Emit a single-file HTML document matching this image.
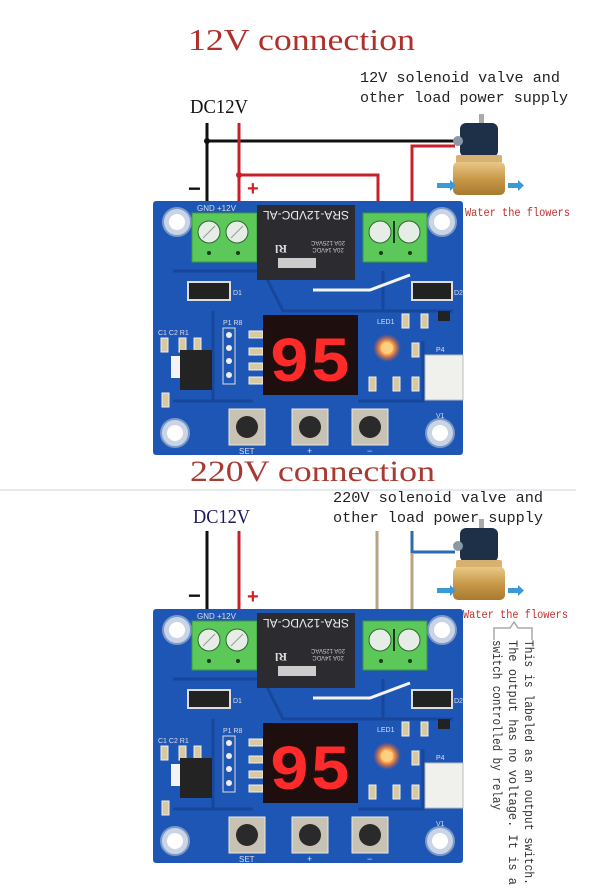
<!DOCTYPE html>
<html><head><meta charset="utf-8"><style>
html,body{margin:0;padding:0;background:#fff;}
svg{display:block;}
</style></head><body>
<svg width="616" height="894" viewBox="0 0 616 894" xmlns="http://www.w3.org/2000/svg">
<defs>
<radialGradient id="glow"><stop offset="0" stop-color="#fff6c0"/><stop offset="0.5" stop-color="#ff9a40"/><stop offset="1" stop-color="#ff5020" stop-opacity="0"/></radialGradient>
<linearGradient id="brass" x1="0" y1="0" x2="0" y2="1"><stop offset="0" stop-color="#e8c888"/><stop offset="0.5" stop-color="#c99a4a"/><stop offset="1" stop-color="#a87a30"/></linearGradient>
</defs>

<!-- ===== TOP SECTION ===== -->
<text x="188" y="50" font-family="Liberation Serif, serif" font-size="31" fill="#b0302c" textLength="227" lengthAdjust="spacingAndGlyphs">12V connection</text>
<text x="190" y="113" font-family="Liberation Serif, serif" font-size="20" fill="#111" textLength="58" lengthAdjust="spacingAndGlyphs">DC12V</text>
<text x="360" y="82" font-family="Liberation Mono, monospace" font-size="15" fill="#222" textLength="200" lengthAdjust="spacingAndGlyphs">12V solenoid valve and</text>
<text x="360" y="102" font-family="Liberation Mono, monospace" font-size="15" fill="#222" textLength="208" lengthAdjust="spacingAndGlyphs">other load power supply</text>

<!-- wires top -->
<line x1="207" y1="123" x2="207" y2="215" stroke="#111" stroke-width="3"/>
<line x1="207" y1="141" x2="455" y2="141" stroke="#111" stroke-width="3"/>
<line x1="239" y1="123" x2="239" y2="215" stroke="#c8202a" stroke-width="3"/>
<polyline points="239,175 378,175 378,216" fill="none" stroke="#c8202a" stroke-width="3"/>
<polyline points="412,216 412,146 455,146" fill="none" stroke="#c8202a" stroke-width="3"/>
<circle cx="207" cy="141" r="3" fill="#111"/><circle cx="239" cy="175" r="3" fill="#c8202a"/>
<text x="188" y="196" font-family="Liberation Sans, sans-serif" font-size="22" font-weight="bold" fill="#111">−</text>
<text x="247" y="195" font-family="Liberation Sans, sans-serif" font-size="20" font-weight="bold" fill="#d82020">+</text>

<!-- valve top -->
<g>
<rect x="479" y="114" width="5" height="10" fill="#aaa"/>
<rect x="460" y="123" width="38" height="34" rx="6" fill="#1e3048"/>
<circle cx="458" cy="141" r="5" fill="#8898a8"/>
<rect x="456" y="155" width="46" height="8" rx="2" fill="#d8b070"/>
<rect x="453" y="162" width="52" height="33" rx="5" fill="url(#brass)"/>
<rect x="437" y="183" width="13" height="5" fill="#3a9ad8"/><polygon points="450,180 456,185.5 450,191" fill="#3a9ad8"/>
<rect x="508" y="183" width="10" height="5" fill="#3a9ad8"/><polygon points="518,180 524,185.5 518,191" fill="#3a9ad8"/>
</g>
<text x="465" y="216" font-family="Liberation Mono, monospace" font-size="12" fill="#c03030" textLength="105" lengthAdjust="spacingAndGlyphs">Water the flowers</text>

<!-- BOARD 1 -->
<g transform="translate(153,201)">
<rect x="0" y="0" width="310" height="254" rx="3" fill="#1d56b4"/>
<g fill="none" stroke="#17479a" stroke-width="3">
<path d="M20 70 H110 L130 110 H300"/><path d="M60 110 V200 H100"/><path d="M205 200 H270 V140"/><path d="M20 200 H60"/><path d="M230 110 V70"/>
</g>
<!-- holes -->
<g fill="#c9d4e6" stroke="#7c98c8" stroke-width="2">
<circle cx="24" cy="21" r="14"/><circle cx="289" cy="21" r="14"/><circle cx="22" cy="232" r="14"/><circle cx="287" cy="232" r="14"/>
</g>
<g fill="#fff"><circle cx="24" cy="21" r="8"/><circle cx="289" cy="21" r="8"/><circle cx="22" cy="232" r="8"/><circle cx="287" cy="232" r="8"/></g>
<!-- left terminal -->
<rect x="39" y="12" width="65" height="49" fill="#5cc85a" stroke="#3a9a3a"/>
<circle cx="56" cy="31" r="11" fill="#e6ece6" stroke="#2a6a2a"/><circle cx="84" cy="31" r="11" fill="#e6ece6" stroke="#2a6a2a"/>
<line x1="50" y1="37" x2="62" y2="25" stroke="#999"/><line x1="78" y1="37" x2="90" y2="25" stroke="#999"/>
<circle cx="56" cy="52" r="2" fill="#1a3a1a"/><circle cx="85" cy="52" r="2" fill="#1a3a1a"/>
<text x="44" y="10" font-family="Liberation Sans, sans-serif" font-size="8" fill="#dde">GND   +12V</text>
<!-- relay -->
<rect x="104" y="4" width="98" height="75" fill="#2b2b30"/>
<text x="153" y="15" transform="rotate(180 153 15)" text-anchor="middle" dy="5" font-family="Liberation Sans, sans-serif" font-size="12" fill="#eee">SRA-12VDC-AL</text>
<text x="175" y="40" transform="rotate(180 175 40)" text-anchor="middle" font-family="Liberation Sans, sans-serif" font-size="6" fill="#ccc">20A 125VAC</text>
<text x="175" y="47" transform="rotate(180 175 47)" text-anchor="middle" font-family="Liberation Sans, sans-serif" font-size="6" fill="#ccc">20A 14VDC</text>
<text x="128" y="44" transform="rotate(180 128 44)" font-family="Liberation Serif, serif" font-size="12" font-weight="bold" fill="#ddd" text-anchor="middle">Rl</text>
<rect x="125" y="57" width="38" height="10" fill="#ccc"/>
<!-- right terminal -->
<rect x="210" y="12" width="64" height="49" fill="#5cc85a" stroke="#3a9a3a"/>
<circle cx="227" cy="31" r="11" fill="#e6ece6" stroke="#2a6a2a"/><circle cx="256" cy="31" r="11" fill="#e6ece6" stroke="#2a6a2a"/>
<line x1="241" y1="20" x2="241" y2="42" stroke="#1a3a1a" stroke-width="2"/>
<circle cx="228" cy="52" r="2" fill="#1a3a1a"/><circle cx="257" cy="52" r="2" fill="#1a3a1a"/>
<!-- diodes -->
<rect x="35" y="81" width="42" height="18" fill="#222" stroke="#ddd" stroke-width="2"/><text x="80" y="94" font-family="Liberation Sans" font-size="7" fill="#dde">D1</text>
<rect x="259" y="81" width="40" height="18" fill="#222" stroke="#ddd" stroke-width="2"/><text x="301" y="94" font-family="Liberation Sans" font-size="7" fill="#dde">D2</text>
<polyline points="160,89 217,89 257,74" fill="none" stroke="#f4f4f4" stroke-width="3"/>
<!-- smd -->
<g fill="#d9c9a0" stroke="#eee">
<rect x="8" y="137" width="7" height="14"/><rect x="26" y="137" width="7" height="14"/><rect x="41" y="137" width="7" height="14"/>
<rect x="9" y="192" width="7" height="14"/>
<rect x="96" y="130" width="14" height="7"/><rect x="96" y="147" width="14" height="7"/><rect x="96" y="162" width="14" height="7"/><rect x="96" y="176" width="14" height="7"/>
<rect x="249" y="113" width="7" height="14"/><rect x="268" y="113" width="7" height="14"/>
<rect x="259" y="142" width="7" height="14"/><rect x="259" y="176" width="7" height="14"/><rect x="240" y="176" width="7" height="14"/><rect x="216" y="176" width="7" height="14"/>
</g>
<rect x="285" y="110" width="12" height="10" fill="#222"/>
<!-- header P1 -->
<rect x="70" y="127" width="12" height="56" fill="none" stroke="#ddd"/>
<g fill="#eee"><circle cx="76" cy="134" r="3"/><circle cx="76" cy="147" r="3"/><circle cx="76" cy="160" r="3"/><circle cx="76" cy="174" r="3"/></g>
<text x="70" y="124" font-family="Liberation Sans" font-size="7" fill="#dde">P1 R8</text>
<text x="5" y="134" font-family="Liberation Sans" font-size="7" fill="#dde">C1  C2  R1</text>
<!-- regulator -->
<rect x="18" y="155" width="10" height="22" fill="#f4f4f4"/>
<rect x="27" y="149" width="32" height="40" fill="#232323"/>
<!-- display -->
<rect x="110" y="114" width="95" height="80" fill="#1e0e0e"/>
<text x="157" y="180" text-anchor="middle" font-family="Liberation Mono, monospace" font-size="64" font-weight="bold" fill="#ff2a2a" textLength="82" lengthAdjust="spacingAndGlyphs">95</text>
<!-- LED -->
<circle cx="234" cy="147" r="14" fill="url(#glow)"/><circle cx="234" cy="147" r="6" fill="#ffd080"/>
<text x="224" y="123" font-family="Liberation Sans" font-size="7" fill="#dde">LED1</text>
<!-- P4 -->
<rect x="272" y="154" width="38" height="45" fill="#f0f0ec" stroke="#bbb"/>
<text x="283" y="151" font-family="Liberation Sans" font-size="7" fill="#dde">P4</text>
<text x="283" y="217" font-family="Liberation Sans" font-size="7" fill="#dde">V1</text>
<!-- buttons -->
<g fill="#c8c2b4" stroke="#ede8de"><rect x="76" y="208" width="36" height="36"/><rect x="139" y="208" width="36" height="36"/><rect x="199" y="208" width="36" height="36"/></g>
<g fill="#2a2a2a"><circle cx="94" cy="226" r="11"/><circle cx="157" cy="226" r="11"/><circle cx="217" cy="226" r="11"/></g>
<text x="86" y="253" font-family="Liberation Sans" font-size="8" fill="#dde">SET</text>
<text x="154" y="253" font-family="Liberation Sans" font-size="9" fill="#dde">+</text>
<text x="214" y="253" font-family="Liberation Sans" font-size="9" fill="#dde">−</text>
</g>

<!-- ===== BOTTOM SECTION ===== -->
<line x1="0" y1="490" x2="576" y2="490" stroke="#c8d4e0" stroke-width="1"/>
<text x="190" y="481" font-family="Liberation Serif, serif" font-size="30" fill="#a83a33" textLength="245" lengthAdjust="spacingAndGlyphs">220V connection</text>
<text x="193" y="523" font-family="Liberation Serif, serif" font-size="20" fill="#1a1a5a" textLength="57" lengthAdjust="spacingAndGlyphs">DC12V</text>
<text x="333" y="502" font-family="Liberation Mono, monospace" font-size="15" fill="#222" textLength="210" lengthAdjust="spacingAndGlyphs">220V solenoid valve and</text>
<text x="333" y="522" font-family="Liberation Mono, monospace" font-size="15" fill="#222" textLength="210" lengthAdjust="spacingAndGlyphs">other load power supply</text>

<line x1="207" y1="531" x2="207" y2="622" stroke="#111" stroke-width="3"/>
<line x1="239" y1="531" x2="239" y2="622" stroke="#c8202a" stroke-width="3"/>
<line x1="377" y1="531" x2="377" y2="624" stroke="#b8a480" stroke-width="3"/>
<polyline points="412,531 412,552 455,552" fill="none" stroke="#2a6ab0" stroke-width="3"/>
<line x1="412" y1="553" x2="412" y2="624" stroke="#b8a480" stroke-width="3"/>
<text x="188" y="603" font-family="Liberation Sans, sans-serif" font-size="22" font-weight="bold" fill="#111">−</text>
<text x="247" y="603" font-family="Liberation Sans, sans-serif" font-size="20" font-weight="bold" fill="#d82020">+</text>

<g transform="translate(0,405)">
<rect x="479" y="114" width="5" height="10" fill="#aaa"/>
<rect x="460" y="123" width="38" height="34" rx="6" fill="#1e3048"/>
<circle cx="458" cy="141" r="5" fill="#8898a8"/>
<rect x="456" y="155" width="46" height="8" rx="2" fill="#d8b070"/>
<rect x="453" y="162" width="52" height="33" rx="5" fill="url(#brass)"/>
<rect x="437" y="183" width="13" height="5" fill="#3a9ad8"/><polygon points="450,180 456,185.5 450,191" fill="#3a9ad8"/>
<rect x="508" y="183" width="10" height="5" fill="#3a9ad8"/><polygon points="518,180 524,185.5 518,191" fill="#3a9ad8"/>
</g>
<text x="463" y="618" font-family="Liberation Mono, monospace" font-size="12" fill="#c03030" textLength="105" lengthAdjust="spacingAndGlyphs">Water the flowers</text>
<path d="M494 640 V628 H510 L514 622 L518 628 H532 V640" fill="none" stroke="#aaa" stroke-width="1.5"/>
<g font-family="Liberation Mono, monospace" font-size="13" fill="#333">
<text x="0" y="0" transform="translate(525,640) rotate(90)" textLength="245" lengthAdjust="spacingAndGlyphs">This is labeled as an output switch.</text>
<text x="0" y="0" transform="translate(509,640) rotate(90)" textLength="245" lengthAdjust="spacingAndGlyphs">The output has no voltage. It is a</text>
<text x="0" y="0" transform="translate(493,640) rotate(90)" textLength="170" lengthAdjust="spacingAndGlyphs">switch controlled by relay</text>
</g>

<!-- BOARD 2 -->
<g transform="translate(153,609)">
<rect x="0" y="0" width="310" height="254" rx="3" fill="#1d56b4"/>
<g fill="none" stroke="#17479a" stroke-width="3">
<path d="M20 70 H110 L130 110 H300"/><path d="M60 110 V200 H100"/><path d="M205 200 H270 V140"/><path d="M20 200 H60"/><path d="M230 110 V70"/>
</g>
<g fill="#c9d4e6" stroke="#7c98c8" stroke-width="2">
<circle cx="24" cy="21" r="14"/><circle cx="289" cy="21" r="14"/><circle cx="22" cy="232" r="14"/><circle cx="287" cy="232" r="14"/>
</g>
<g fill="#fff"><circle cx="24" cy="21" r="8"/><circle cx="289" cy="21" r="8"/><circle cx="22" cy="232" r="8"/><circle cx="287" cy="232" r="8"/></g>
<rect x="39" y="12" width="65" height="49" fill="#5cc85a" stroke="#3a9a3a"/>
<circle cx="56" cy="31" r="11" fill="#e6ece6" stroke="#2a6a2a"/><circle cx="84" cy="31" r="11" fill="#e6ece6" stroke="#2a6a2a"/>
<line x1="50" y1="37" x2="62" y2="25" stroke="#999"/><line x1="78" y1="37" x2="90" y2="25" stroke="#999"/>
<circle cx="56" cy="52" r="2" fill="#1a3a1a"/><circle cx="85" cy="52" r="2" fill="#1a3a1a"/>
<text x="44" y="10" font-family="Liberation Sans, sans-serif" font-size="8" fill="#dde">GND   +12V</text>
<rect x="104" y="4" width="98" height="75" fill="#2b2b30"/>
<text x="153" y="15" transform="rotate(180 153 15)" text-anchor="middle" dy="5" font-family="Liberation Sans, sans-serif" font-size="12" fill="#eee">SRA-12VDC-AL</text>
<text x="175" y="40" transform="rotate(180 175 40)" text-anchor="middle" font-family="Liberation Sans, sans-serif" font-size="6" fill="#ccc">20A 125VAC</text>
<text x="175" y="47" transform="rotate(180 175 47)" text-anchor="middle" font-family="Liberation Sans, sans-serif" font-size="6" fill="#ccc">20A 14VDC</text>
<text x="128" y="44" transform="rotate(180 128 44)" font-family="Liberation Serif, serif" font-size="12" font-weight="bold" fill="#ddd" text-anchor="middle">Rl</text>
<rect x="125" y="57" width="38" height="10" fill="#ccc"/>
<rect x="210" y="12" width="64" height="49" fill="#5cc85a" stroke="#3a9a3a"/>
<circle cx="227" cy="31" r="11" fill="#e6ece6" stroke="#2a6a2a"/><circle cx="256" cy="31" r="11" fill="#e6ece6" stroke="#2a6a2a"/>
<line x1="241" y1="20" x2="241" y2="42" stroke="#1a3a1a" stroke-width="2"/>
<circle cx="228" cy="52" r="2" fill="#1a3a1a"/><circle cx="257" cy="52" r="2" fill="#1a3a1a"/>
<rect x="35" y="81" width="42" height="18" fill="#222" stroke="#ddd" stroke-width="2"/><text x="80" y="94" font-family="Liberation Sans" font-size="7" fill="#dde">D1</text>
<rect x="259" y="81" width="40" height="18" fill="#222" stroke="#ddd" stroke-width="2"/><text x="301" y="94" font-family="Liberation Sans" font-size="7" fill="#dde">D2</text>
<polyline points="160,89 217,89 257,74" fill="none" stroke="#f4f4f4" stroke-width="3"/>
<g fill="#d9c9a0" stroke="#eee">
<rect x="8" y="137" width="7" height="14"/><rect x="26" y="137" width="7" height="14"/><rect x="41" y="137" width="7" height="14"/>
<rect x="9" y="192" width="7" height="14"/>
<rect x="96" y="130" width="14" height="7"/><rect x="96" y="147" width="14" height="7"/><rect x="96" y="162" width="14" height="7"/><rect x="96" y="176" width="14" height="7"/>
<rect x="249" y="113" width="7" height="14"/><rect x="268" y="113" width="7" height="14"/>
<rect x="259" y="142" width="7" height="14"/><rect x="259" y="176" width="7" height="14"/><rect x="240" y="176" width="7" height="14"/><rect x="216" y="176" width="7" height="14"/>
</g>
<rect x="285" y="110" width="12" height="10" fill="#222"/>
<rect x="70" y="127" width="12" height="56" fill="none" stroke="#ddd"/>
<g fill="#eee"><circle cx="76" cy="134" r="3"/><circle cx="76" cy="147" r="3"/><circle cx="76" cy="160" r="3"/><circle cx="76" cy="174" r="3"/></g>
<text x="70" y="124" font-family="Liberation Sans" font-size="7" fill="#dde">P1 R8</text>
<text x="5" y="134" font-family="Liberation Sans" font-size="7" fill="#dde">C1  C2  R1</text>
<rect x="18" y="155" width="10" height="22" fill="#f4f4f4"/>
<rect x="27" y="149" width="32" height="40" fill="#232323"/>
<rect x="110" y="114" width="95" height="80" fill="#1e0e0e"/>
<text x="157" y="180" text-anchor="middle" font-family="Liberation Mono, monospace" font-size="64" font-weight="bold" fill="#ff2a2a" textLength="82" lengthAdjust="spacingAndGlyphs">95</text>
<circle cx="234" cy="147" r="14" fill="url(#glow)"/><circle cx="234" cy="147" r="6" fill="#ffd080"/>
<text x="224" y="123" font-family="Liberation Sans" font-size="7" fill="#dde">LED1</text>
<rect x="272" y="154" width="38" height="45" fill="#f0f0ec" stroke="#bbb"/>
<text x="283" y="151" font-family="Liberation Sans" font-size="7" fill="#dde">P4</text>
<text x="283" y="217" font-family="Liberation Sans" font-size="7" fill="#dde">V1</text>
<g fill="#c8c2b4" stroke="#ede8de"><rect x="76" y="208" width="36" height="36"/><rect x="139" y="208" width="36" height="36"/><rect x="199" y="208" width="36" height="36"/></g>
<g fill="#2a2a2a"><circle cx="94" cy="226" r="11"/><circle cx="157" cy="226" r="11"/><circle cx="217" cy="226" r="11"/></g>
<text x="86" y="253" font-family="Liberation Sans" font-size="8" fill="#dde">SET</text>
<text x="154" y="253" font-family="Liberation Sans" font-size="9" fill="#dde">+</text>
<text x="214" y="253" font-family="Liberation Sans" font-size="9" fill="#dde">−</text>
</g>
</svg>
</body></html>
